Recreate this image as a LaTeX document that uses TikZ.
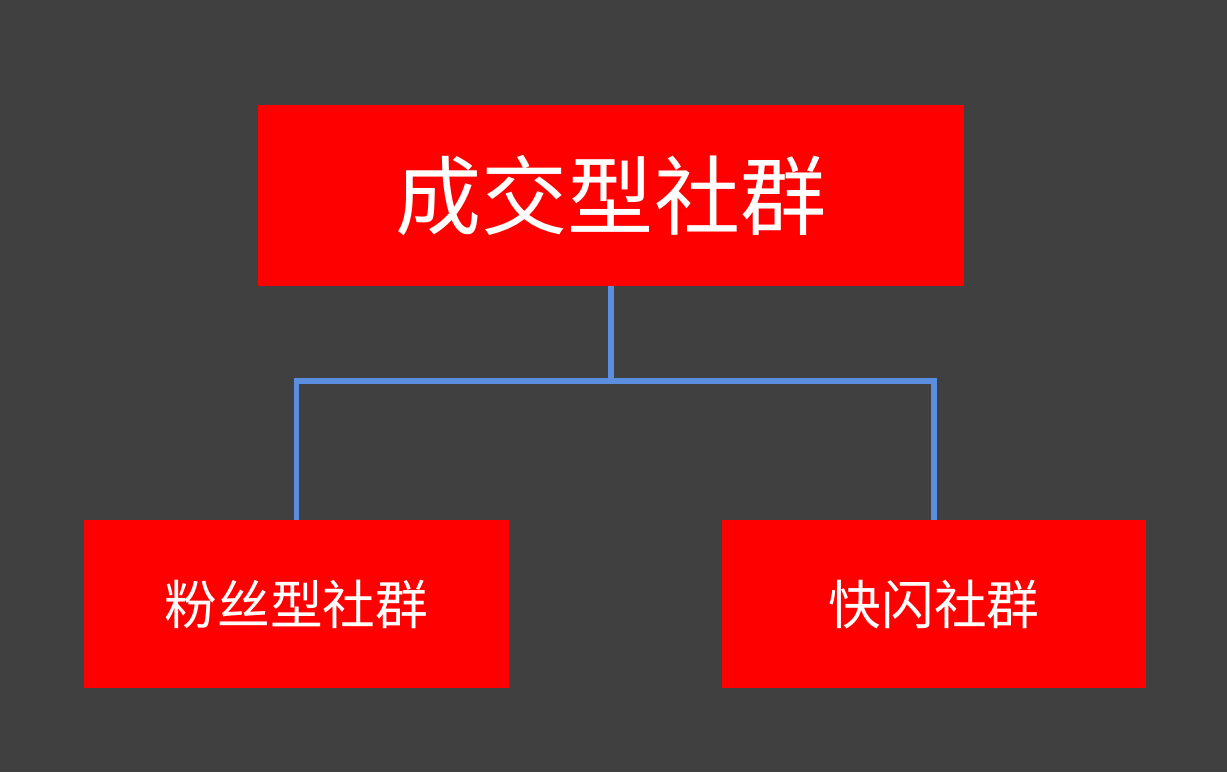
\documentclass[tikz,border=0pt]{standalone}
\usepackage{fontspec}
\newfontfamily\cjk{Noto Sans CJK SC}
\usepackage{xcolor}
\usetikzlibrary{positioning}
\definecolor{bgdark}{HTML}{404040}
\definecolor{linkblue}{HTML}{5B8EDE}

\tikzset{
    groupbox/.style={fill=red, text=white, inner sep=0pt, font=\cjk},
    link/.style={draw=linkblue, line width=0.11cm}
}

\begin{document}
\begin{tikzpicture}
    \fill[bgdark] (0,0) rectangle (24.54,-15.44);

    \node[groupbox, minimum width=14.12cm, minimum height=3.62cm,
          font=\cjk\fontsize{49}{56}\selectfont] (deal) at (12.22,-3.91) {成交型社群};
    \node[groupbox, minimum width=8.5cm, minimum height=3.36cm,
          font=\cjk\fontsize{30}{36}\selectfont] (fans) at (5.93,-12.08) {粉丝型社群};
    \node[groupbox, minimum width=8.48cm, minimum height=3.36cm,
          font=\cjk\fontsize{30}{36}\selectfont] (flash) at (18.68,-12.08) {快闪社群};

    \coordinate (bus) at (0,-7.62);

\draw [link] (deal.south) -- (deal.south |- bus);
\draw [link] (fans.north) -- (fans.north |- bus) -- (flash.north |- bus) -- (flash.north);
\end{tikzpicture}
\end{document}
